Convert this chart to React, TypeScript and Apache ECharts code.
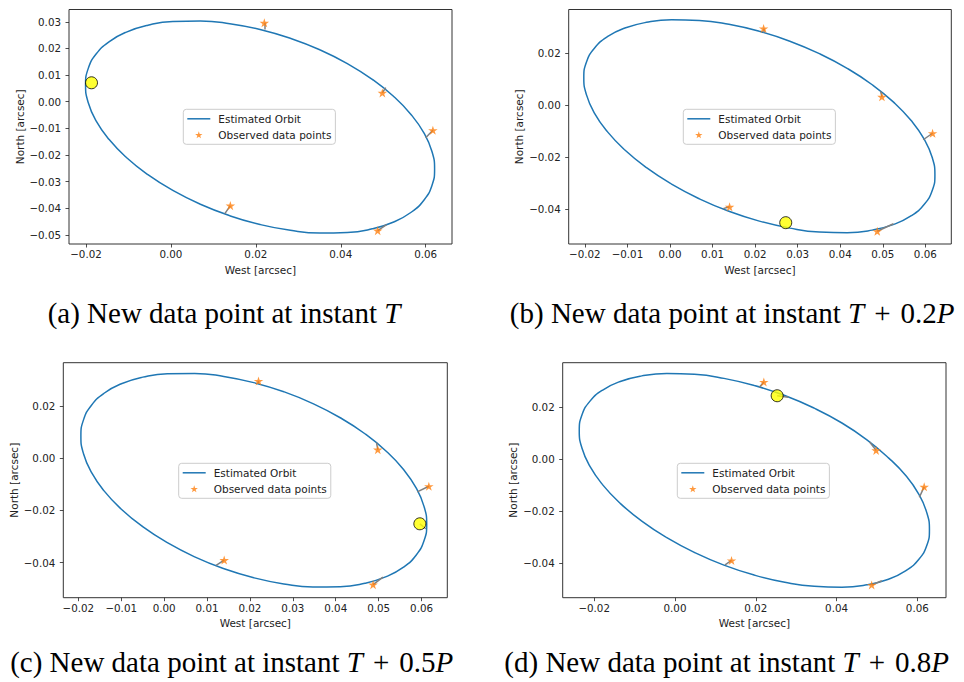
import React, { useEffect, useRef } from 'react';
import * as echarts from 'echarts';

// Observed astrometric data points (same in every panel)
const observedWest = [0.022, 0.0498, 0.0617, 0.014, 0.0487];
const observedNorth = [0.0296, 0.0033, -0.0107, -0.039, -0.0484];

// Estimated orbits ([West, North])
const orbitA = [
  [0.021, 0.0271], [0.01387, 0.02928], [0.00694, 0.03029], [0.00045, 0.0301], [-0.00542, 0.0287],
  [-0.01048, 0.02613], [-0.01459, 0.02248], [-0.01762, 0.01787], [-0.01948, 0.01241], [-0.0201, 0.0063],
  [-0.01948, -0.00029], [-0.01762, -0.00717], [-0.01459, -0.01412], [-0.01048, -0.02093], [-0.00542, -0.02738],
  [0.00045, -0.0333], [0.00694, -0.03849], [0.01387, -0.0428], [0.021, -0.0461], [0.02813, -0.04828],
  [0.03506, -0.04929], [0.04155, -0.0491], [0.04742, -0.0477], [0.05248, -0.04513], [0.05659, -0.04148],
  [0.05962, -0.03687], [0.06148, -0.03141], [0.0621, -0.0253], [0.06148, -0.01871], [0.05962, -0.01183],
  [0.05659, -0.00488], [0.05248, 0.00193], [0.04742, 0.00838], [0.04155, 0.0143], [0.03506, 0.01949],
  [0.02813, 0.0238], [0.021, 0.0271],
];
const orbitB = [
  [0.021, 0.0285], [0.01384, 0.03119], [0.00689, 0.03269], [0.00037, 0.03295], [-0.00552, 0.03196],
  [-0.0106, 0.02976], [-0.01472, 0.02642], [-0.01776, 0.02202], [-0.01962, 0.01673], [-0.02025, 0.01067],
  [-0.01962, 0.00405], [-0.01776, -0.00294], [-0.01472, -0.01008], [-0.0106, -0.01716], [-0.00552, -0.02396],
  [0.00037, -0.03027], [0.00689, -0.03591], [0.01384, -0.04071], [0.021, -0.0445], [0.02816, -0.04719],
  [0.03511, -0.04869], [0.04163, -0.04895], [0.04752, -0.04796], [0.0526, -0.04576], [0.05672, -0.04242],
  [0.05976, -0.03802], [0.06162, -0.03273], [0.06225, -0.02667], [0.06162, -0.02005], [0.05976, -0.01306],
  [0.05672, -0.00592], [0.0526, 0.00116], [0.04752, 0.00796], [0.04163, 0.01427], [0.03511, 0.01991],
  [0.02816, 0.02471], [0.021, 0.0285],
];
const orbitC = [
  [0.0209, 0.02897], [0.0139, 0.03133], [0.00712, 0.03249], [0.00075, 0.0324], [-0.005, 0.03107],
  [-0.00997, 0.02854], [-0.014, 0.0249], [-0.01697, 0.02023], [-0.01879, 0.0147], [-0.0194, 0.00847],
  [-0.01879, 0.00172], [-0.01697, -0.00533], [-0.014, -0.01248], [-0.00997, -0.0195], [-0.005, -0.02619],
  [0.00075, -0.03232], [0.00712, -0.03775], [0.0139, -0.04227], [0.0209, -0.04577], [0.0279, -0.04813],
  [0.03468, -0.04929], [0.04105, -0.0492], [0.0468, -0.04787], [0.05177, -0.04534], [0.0558, -0.0417],
  [0.05877, -0.03703], [0.06059, -0.0315], [0.0612, -0.02527], [0.06059, -0.01852], [0.05877, -0.01147],
  [0.0558, -0.00432], [0.05177, 0.0027], [0.0468, 0.00939], [0.04105, 0.01552], [0.03468, 0.02095],
  [0.0279, 0.02547], [0.0209, 0.02897],
];
const orbitD = [
  [0.01965, 0.02823], [0.01212, 0.03098], [0.00482, 0.03254], [-0.00203, 0.03287], [-0.00822, 0.03194],
  [-0.01356, 0.0298], [-0.01789, 0.0265], [-0.02109, 0.02214], [-0.02304, 0.01686], [-0.0237, 0.01083],
  [-0.02304, 0.00422], [-0.02109, -0.00278], [-0.01789, -0.00994], [-0.01356, -0.01704], [-0.00822, -0.02388],
  [-0.00203, -0.03023], [0.00482, -0.03592], [0.01212, -0.04078], [0.01965, -0.04463], [0.02718, -0.04738],
  [0.03448, -0.04894], [0.04133, -0.04927], [0.04752, -0.04834], [0.05286, -0.0462], [0.05719, -0.0429],
  [0.06039, -0.03854], [0.06234, -0.03326], [0.063, -0.02723], [0.06234, -0.02062], [0.06039, -0.01362],
  [0.05719, -0.00646], [0.05286, 0.00044], [0.04752, 0.00738], [0.04133, 0.01383], [0.03448, 0.01952],
  [0.02718, 0.02438], [0.01965, 0.02823],
];

// Points on each orbit matched to the observed points (residual segments)
const fitA = [[0.0221, 0.0271], [0.0506, 0.0053], [0.06, -0.0135], [0.0127, -0.042], [0.0508, -0.0461]];
const fitB = [[0.022, 0.028], [0.0495, 0.0054], [0.0595, -0.0132], [0.0125, -0.0397], [0.0525, -0.0455]];
const fitC = [[0.0219, 0.0285], [0.0495, 0.006], [0.059, -0.0129], [0.0121, -0.041], [0.051, -0.0455]];
const fitD = [[0.0209, 0.0276], [0.0482, 0.0065], [0.0605, -0.0147], [0.0124, -0.0407], [0.0512, -0.0468]];

// New data point of each panel and its matched orbit point
const newPointA = [-0.0187, 0.0071];
const newPointB = [0.0272, -0.0451];
const newPointC = [0.0596, -0.0251];
const newPointD = [0.0253, 0.0243];
const newFitC = [0.061, -0.027];
const newFitD = [0.0281, 0.0237];

// Axis extents and ticks
const xRangeA = [-0.024, 0.0662];
const xRangeB = [-0.0238, 0.0661];
const xRangeC = [-0.0235, 0.066];
const xRangeD = [-0.0278, 0.0671];
const yRangeA = [-0.0534, 0.0346];
const yRangeB = [-0.0533, 0.0369];
const yRangeC = [-0.0534, 0.0366];
const yRangeD = [-0.0533, 0.037];
const xTicksCoarse = [-0.02, 0, 0.02, 0.04, 0.06];
const xTicksFine = [-0.02, -0.01, 0, 0.01, 0.02, 0.03, 0.04, 0.05, 0.06];
const yTicksA = [-0.05, -0.04, -0.03, -0.02, -0.01, 0, 0.01, 0.02, 0.03];
const yTicksCoarse = [-0.04, -0.02, 0, 0.02];

const captions = [
  '(a) New data point at instant {i|T}',
  '(b) New data point at instant {i|T}{op|+}0.2{i|P}',
  '(c) New data point at instant {i|T}{op|+}0.5{i|P}',
  '(d) New data point at instant {i|T}{op|+}0.8{i|P}',
];

const STAR =
  'path://M100 0 L77.55 69.1 L4.89 69.1 L63.67 111.8 L41.22 180.9 L100 138.2 L158.78 180.9 L136.33 111.8 L195.11 69.1 L122.45 69.1 Z';
const LINE_ICON = 'path://M0 0 L46 0 L46 3 L0 3 Z';

const panels = [
  { grid: { left: 69, top: 9.5, width: 383, height: 234.5 }, xr: xRangeA, yr: yRangeA, xt: xTicksCoarse, yt: yTicksA,
    orbit: orbitA, fit: fitA, np: newPointA, npFit: null as number[] | null, legend: [183.3, 109.3], cap: [224, 313] },
  { grid: { left: 568.7, top: 9.5, width: 382.6, height: 234.5 }, xr: xRangeB, yr: yRangeB, xt: xTicksFine, yt: yTicksCoarse,
    orbit: orbitB, fit: fitB, np: newPointB, npFit: null as number[] | null, legend: [683.3, 109.3], cap: [732.2, 313] },
  { grid: { left: 63.3, top: 362.7, width: 384, height: 235 }, xr: xRangeC, yr: yRangeC, xt: xTicksFine, yt: yTicksCoarse,
    orbit: orbitC, fit: fitC, np: newPointC, npFit: newFitC, legend: [178.7, 463.3], cap: [231.7, 661.5] },
  { grid: { left: 562.7, top: 362.7, width: 383.3, height: 235 }, xr: xRangeD, yr: yRangeD, xt: xTicksCoarse, yt: yTicksCoarse,
    orbit: orbitD, fit: fitD, np: newPointD, npFit: newFitD, legend: [677.3, 463.3], cap: [726.7, 661.5] },
];

const fmt = (v: number) => {
  const s = Math.abs(v).toFixed(2);
  return (v < -1e-9 ? '\u2212' : '') + s;
};

const SANS = 'DejaVu Sans';
const SERIF = 'Liberation Serif';
const INK = '#222';

export default function App() {
  const ref = useRef<HTMLDivElement>(null);
  useEffect(() => {
    if (!ref.current) return;
    const chart = echarts.init(ref.current, undefined, { renderer: 'svg' });

    const grid = panels.map((p) => ({
      ...p.grid,
      show: true,
      borderColor: '#333',
      borderWidth: 1,
      backgroundColor: '#fff',
      containLabel: false,
    }));

    const xAxis = panels.map((p, i) => ({
      type: 'value',
      gridIndex: i,
      min: p.xr[0],
      max: p.xr[1],
      name: 'West [arcsec]',
      nameLocation: 'middle',
      nameGap: 20,
      nameTextStyle: { fontFamily: SANS, fontSize: 10.5, color: INK },
      axisLine: { show: false, onZero: false },
      axisTick: { show: true, length: 3.5, lineStyle: { color: INK, width: 0.8 }, customValues: p.xt },
      axisLabel: { customValues: p.xt, formatter: fmt, fontFamily: SANS, fontSize: 10.3, color: INK, margin: 5 },
      splitLine: { show: false },
    }));

    const yAxis = panels.map((p, i) => ({
      type: 'value',
      gridIndex: i,
      min: p.yr[0],
      max: p.yr[1],
      name: 'North [arcsec]',
      nameLocation: 'middle',
      nameGap: 44,
      nameTextStyle: { fontFamily: SANS, fontSize: 10.5, color: INK },
      axisLine: { show: false, onZero: false },
      axisTick: { show: true, length: 3.5, lineStyle: { color: INK, width: 0.8 }, customValues: p.yt },
      axisLabel: { customValues: p.yt, formatter: fmt, fontFamily: SANS, fontSize: 10.3, color: INK, margin: 8 },
      splitLine: { show: false },
    }));

    const series: any[] = [];
    panels.forEach((p, i) => {
      series.push({
        type: 'line',
        name: 'Estimated Orbit',
        xAxisIndex: i,
        yAxisIndex: i,
        data: p.orbit,
        smooth: 0.5,
        symbol: 'none',
        lineStyle: { color: '#1f77b4', width: 1.5, join: 'round' },
        itemStyle: { color: '#1f77b4' },
        z: 2,
        silent: true,
      });
      const segs = p.fit.map((f, k) => ({ coords: [[observedWest[k], observedNorth[k]], f] }));
      if (p.npFit) segs.push({ coords: [p.np, p.npFit] });
      series.push({
        type: 'lines',
        name: 'Residuals',
        coordinateSystem: 'cartesian2d',
        xAxisIndex: i,
        yAxisIndex: i,
        data: segs,
        lineStyle: { color: '#808080', width: 1.5, opacity: 1 },
        z: 3,
        silent: true,
      });
      series.push({
        type: 'scatter',
        name: 'Observed data points',
        xAxisIndex: i,
        yAxisIndex: i,
        data: observedWest.map((x, k) => [x, observedNorth[k]]),
        symbol: STAR,
        symbolSize: 9.5,
        symbolKeepAspect: true,
        itemStyle: { color: '#ff7f0e' },
        z: 4,
        silent: true,
      });
      series.push({
        type: 'scatter',
        name: 'New data point',
        xAxisIndex: i,
        yAxisIndex: i,
        data: [p.np],
        symbol: 'circle',
        symbolSize: 12,
        itemStyle: { color: '#ffff00', borderColor: '#000', borderWidth: 1 },
        z: 5,
        silent: true,
      });
    });

    const legend = panels.map((p) => ({
      show: true,
      orient: 'vertical',
      left: p.legend[0],
      top: p.legend[1],
      data: [
        { name: 'Estimated Orbit', icon: LINE_ICON, itemStyle: { color: '#1f77b4', borderWidth: 0 } },
        { name: 'Observed data points' },
      ],
      itemWidth: 23,
      itemHeight: 7,
      itemGap: 5,
      padding: [4, 4, 4, 4],
      backgroundColor: 'rgba(255,255,255,0.8)',
      borderColor: '#cccccc',
      borderWidth: 1,
      borderRadius: 3,
      selectedMode: false,
      textStyle: { fontFamily: SANS, fontSize: 10.5, color: INK, padding: [0, 0, 0, 3] },
    }));

    const graphic = panels.map((p, i) => ({
      type: 'text',
      x: p.cap[0],
      y: p.cap[1],
      silent: true,
      style: {
        text: captions[i],
        fontFamily: SERIF,
        fontSize: 29,
        fill: '#000',
        align: 'center',
        verticalAlign: 'middle',
        textAlign: 'center',
        textVerticalAlign: 'middle',
        rich: {
          i: { fontFamily: SERIF, fontSize: 29, fontStyle: 'italic', fill: '#000' },
          op: { fontFamily: SERIF, fontSize: 29, fill: '#000', padding: [0, 10, 0, 10] },
        },
      },
    }));

    chart.setOption({
      animation: false,
      textStyle: { fontFamily: SANS },
      grid,
      xAxis,
      yAxis,
      legend,
      series,
      graphic,
    } as any);

    return () => chart.dispose();
  }, []);

  return (
    <div
      ref={ref}
      style={{ position: 'absolute', left: 0, top: 0, width: 964, height: 682, background: '#fff' }}
    />
  );
}
